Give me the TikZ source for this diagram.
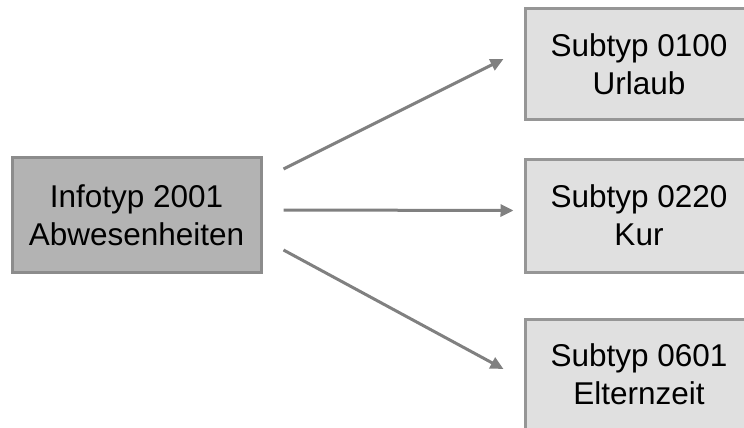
\documentclass[tikz,border=0pt]{standalone}
\usepackage{fontspec}
\setmainfont{Liberation Sans}
\usetikzlibrary{arrows.meta,positioning}
\definecolor{infogray}{RGB}{179,179,179}
\definecolor{infoline}{RGB}{140,140,140}
\definecolor{subgray}{RGB}{224,224,224}
\definecolor{subline}{RGB}{150,150,150}
\definecolor{arrowgray}{RGB}{128,128,128}

\begin{document}
\begin{tikzpicture}[x=1pt,y=-1pt,
info/.style={draw=infoline,line width=3pt,fill=infogray,
minimum width=249pt,minimum height=115pt,align=center,
font=\fontsize{31.5}{38}\selectfont},
sub/.style={draw=subline,line width=3pt,fill=subgray,
minimum width=228pt,minimum height=110pt,align=center,
font=\fontsize{31.5}{38}\selectfont},
arrow/.style={-{Triangle[length=13pt,width=12pt]},line width=3pt,draw=arrowgray}]
\useasboundingbox (0,0) rectangle (744,428);
\node[info] (it) at (136.5,215) {Infotyp 2001\\Abwesenheiten};
\node[sub] (u) at (639,64) {Subtyp 0100\\Urlaub};
\node[sub,minimum height=113pt] (k) at (639,215.5) {Subtyp 0220\\Kur};
\node[sub] (e) at (639,374) {Subtyp 0601\\Elternzeit};
\draw[arrow] ([xshift=21pt,yshift=46pt]it.east) -- ([xshift=-20pt,yshift=5pt]u.west);
\draw[arrow] ([xshift=21pt,yshift=5pt]it.east) -- ([xshift=-10pt,yshift=5pt]k.west);
\draw[arrow] ([xshift=21pt,yshift=-35pt]it.east) -- ([xshift=-20pt,yshift=5pt]e.west);
\end{tikzpicture}
\end{document}
